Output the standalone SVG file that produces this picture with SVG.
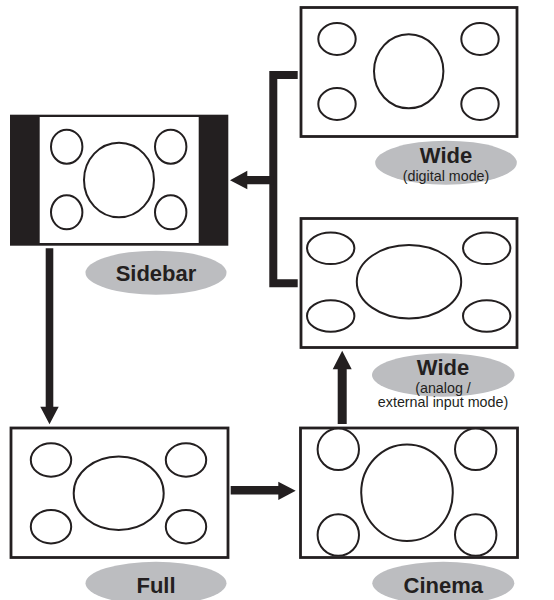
<svg xmlns="http://www.w3.org/2000/svg" width="554" height="600" viewBox="0 0 554 600">
<style>
.box{fill:#fff;stroke:#231f20;stroke-width:2.8}
.c{fill:#fff;stroke:#231f20;stroke-width:2}
.lbl{fill:#bcbdc0}
.t{font-family:"Liberation Sans",Arial,sans-serif;fill:#231f20;text-anchor:middle}
.b{font-weight:bold;font-size:22px}
.s{font-size:14.3px}
.arr{fill:#231f20}
</style>
<defs>
<clipPath id="cinClip"><rect x="301.7" y="429" width="214.6" height="127.4"/></clipPath>
</defs>
<rect width="554" height="600" fill="#fff"/>

<g id="wide-digital">
<rect class="box" x="301" y="7.5" width="216" height="129"/>
<ellipse class="c" cx="337" cy="39" rx="18.7" ry="16"/>
<ellipse class="c" cx="480" cy="39" rx="18.7" ry="16"/>
<ellipse class="c" cx="337" cy="104" rx="18.7" ry="16"/>
<ellipse class="c" cx="480" cy="104" rx="18.7" ry="16"/>
<ellipse class="c" cx="408.7" cy="71.3" rx="34.7" ry="37"/>
<ellipse class="lbl" cx="446" cy="162.7" rx="70.8" ry="22"/>
<text class="t b" x="446" y="162.5">Wide</text>
<text class="t s" x="446" y="180.5">(digital mode)</text>
</g>

<g id="sidebar">
<rect x="10" y="114.7" width="218.3" height="131" fill="#231f20"/>
<rect x="39.7" y="117" width="159" height="126" fill="#fff"/>
<ellipse class="c" cx="66.7" cy="146.7" rx="15.7" ry="17"/>
<ellipse class="c" cx="170.7" cy="146.7" rx="15.7" ry="17"/>
<ellipse class="c" cx="66.7" cy="212.3" rx="15.7" ry="17"/>
<ellipse class="c" cx="170.7" cy="212.3" rx="15.7" ry="17"/>
<ellipse class="c" cx="119" cy="180" rx="35" ry="37.3"/>
<ellipse class="lbl" cx="156" cy="272.7" rx="70.5" ry="22"/>
<text class="t b" x="156" y="280.5">Sidebar</text>
</g>

<g id="wide-analog">
<rect class="box" x="301" y="218.5" width="216" height="129"/>
<ellipse class="c" cx="330.7" cy="248.3" rx="23.7" ry="15.8"/>
<ellipse class="c" cx="486.7" cy="248.3" rx="23.7" ry="15.8"/>
<ellipse class="c" cx="330.7" cy="316" rx="23.7" ry="15.8"/>
<ellipse class="c" cx="486.7" cy="316" rx="23.7" ry="15.8"/>
<ellipse class="c" cx="409" cy="281.7" rx="52.2" ry="36.7"/>
<ellipse class="lbl" cx="443.3" cy="375" rx="71.3" ry="21.7"/>
<text class="t b" x="443" y="374.5">Wide</text>
<text class="t s" x="443" y="392.5">(analog /</text>
<text class="t s" x="443" y="407">external input mode)</text>
</g>

<g id="full">
<rect class="box" x="11" y="428" width="217" height="129.5"/>
<ellipse class="c" cx="51" cy="460" rx="20.2" ry="16.7"/>
<ellipse class="c" cx="186" cy="460" rx="20.2" ry="16.7"/>
<ellipse class="c" cx="51" cy="526.7" rx="20.2" ry="16.7"/>
<ellipse class="c" cx="186" cy="526.7" rx="20.2" ry="16.7"/>
<ellipse class="c" cx="118.7" cy="493.3" rx="45" ry="36.7"/>
<ellipse class="lbl" cx="156" cy="583.3" rx="70.5" ry="21.5"/>
<text class="t b" x="156" y="593">Full</text>
</g>

<g id="cinema">
<rect class="box" x="300.5" y="428" width="217" height="129.5"/>
<g clip-path="url(#cinClip)">
<ellipse class="c" cx="338.3" cy="449.3" rx="20.7" ry="20.8"/>
<ellipse class="c" cx="475.7" cy="449.3" rx="20.7" ry="20.8"/>
<ellipse class="c" cx="338.3" cy="535" rx="20.7" ry="20.8"/>
<ellipse class="c" cx="475.7" cy="535" rx="20.7" ry="20.8"/>
</g>
<ellipse class="c" cx="407" cy="492.7" rx="45.8" ry="48.3"/>
<ellipse class="lbl" cx="443.3" cy="583.3" rx="71" ry="21.5"/>
<text class="t b" x="443.3" y="592.5">Cinema</text>
</g>

<g id="connectors">
<path class="arr" d="M297.7,71 H269.3 V287.3 H297.7 V279.3 H277.3 V79 H297.7 Z"/>
<path class="arr" d="M273.3,176 H247.3 V170.7 L230,180.2 L247.3,189.3 V184.3 H273.3 Z"/>
<path class="arr" d="M45.7,248.3 H53.3 V406.7 H58.7 L49.5,424.3 L40.3,406.7 H45.7 Z"/>
<path class="arr" d="M230.7,486 V494.6 H278.3 V500 L295.7,490.8 L278.3,481.7 V486 Z"/>
<path class="arr" d="M337.7,424 H346.7 V369.3 H351.7 L342.2,350.7 L332.7,369.3 H337.7 Z"/>
</g>
</svg>
